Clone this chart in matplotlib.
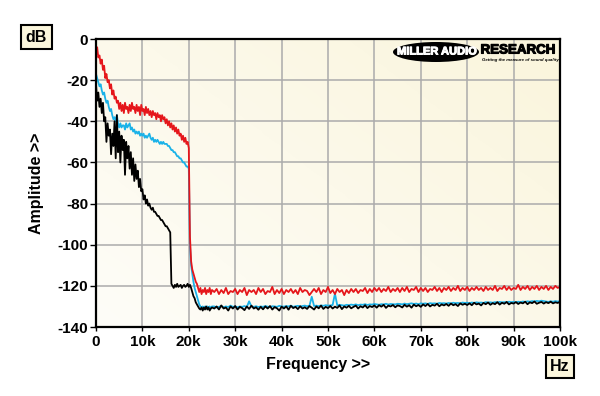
import numpy as np
import matplotlib
matplotlib.use("Agg")
import matplotlib.pyplot as plt
import matplotlib.patheffects as pe
from matplotlib.patches import Ellipse
from matplotlib.colors import LinearSegmentedColormap

plt.rcParams['font.family'] = ['Liberation Sans', 'DejaVu Sans']

# ---------------- data (dB) ----------------
# low region: 0 .. 25 kHz, one value every 0.25 kHz
red_low = [
    -8, -4, -9, -8,  -12, -10, -15, -13,  -19, -17, -21, -20,  -24, -22, -27, -25,
    -29, -28, -31, -30,  -34, -31, -35, -32,  -36, -31, -34, -33,  -36, -32, -35, -31,
    -34, -33, -36, -32,  -35, -33, -37, -32,  -35, -34, -37, -33,  -36, -34, -37, -35,
    -38, -35, -37, -36,  -39, -36, -38, -37,  -40, -37, -39, -38,  -41, -39, -42, -40,
    -43, -41, -44, -42,  -45, -43, -46, -44,  -47, -46, -49, -47,  -50, -48, -51, -50,
    -53, -96, -108, -112,  -114, -116, -118, -119,  -121, -123, -121, -124,
    -122, -123, -121, -124,  -122, -123, -121, -124,  -122]
cyan_low = [
    -17, -19, -21, -23,  -22, -25, -27, -26,  -29, -31, -30, -33,  -35, -34, -37, -39,
    -38, -40, -37, -41,  -43, -41, -43, -42,  -42, -44, -41, -43,  -42, -41, -44, -43,
    -45, -44, -46, -45,  -46, -45, -47, -46,  -47, -46, -48, -47,  -48, -47, -46, -48,
    -49, -48, -50, -49,  -50, -49, -50, -51,  -50, -51, -50, -51,  -51, -51, -52, -52,
    -53, -54, -54, -55,  -55, -56, -57, -57,  -58, -58, -59, -60,  -60, -61, -62, -62,
    -63, -100, -110, -114,  -118, -121, -123, -125,  -127, -129, -130, -130.5,
    -130, -131, -130, -130.5,  -130, -130.5, -130, -131,  -130]
black_low = [
    -22, -30, -26, -33,  -29, -36, -31, -40,  -38, -50, -41, -47,  -44, -56, -46, -52,
    -40, -58, -37, -55,  -45, -60, -47, -54,  -49, -66, -50, -58,  -52, -63, -55, -66,
    -58, -69, -61, -68,  -64, -72, -68, -74,  -73, -78, -76, -80,  -78, -81, -80, -82,
    -83, -82, -84, -84,  -85, -86, -86, -87,  -88, -88, -89, -90,  -91, -91, -92, -93,
    -94, -119, -120, -121,  -119.5, -120.5, -119, -120.5,  -120, -119.5, -121, -120,
    -119.5, -120.5, -120, -119,  -120.5, -119.5, -121, -123,  -125, -126, -128, -129,
    -130, -131, -131.5, -130.5,  -132, -130.5, -131.5, -130,  -131.5, -130.5, -132, -131,
    -130.5]

# noise floor: 25.5 .. 100 kHz, one value every 0.5 kHz
red_floor = [
    -123, -121.5, -124, -122, -123.5, -121, -124, -122.5, -123, -121.5,
    -124, -122, -123, -121, -124.5, -122, -123, -122, -124, -121,
    -123, -121.5, -124, -122.5, -123, -120.5, -124, -122, -123.5, -121.5,
    -124, -122, -123, -121.5, -123.5, -122, -124, -121, -123, -122,
    -122.5, -124.5, -123, -121.5, -123, -121, -124, -122, -123, -120.5,
    -123.5, -122, -124, -121.5, -123, -122, -124.5, -122, -123.5, -121.5,
    -123, -121.5, -123.5, -122, -122.5, -121, -123.5, -121.5, -123, -121,
    -122.5, -121, -123, -121.5, -122.5, -120.5, -123, -121.5, -122.5, -121,
    -123, -121, -122.5, -120.5, -123, -121.5, -122, -120.5, -123, -121,
    -122.5, -121, -123, -121.5, -122, -120.5, -122.5, -121, -123, -121,
    -122, -120.5, -122.5, -121, -122, -120, -122.5, -121, -122, -120.5,
    -122.5, -121, -122, -120.5, -122, -121, -122.5, -120.5, -122, -121,
    -122, -120, -122.5, -121, -121.5, -120, -122, -120.5, -122, -121,
    -121.5, -119.5, -122, -120.5, -121.5, -120, -122, -120.5, -121.5, -120,
    -122, -120.5, -121.5, -120, -122, -120.5, -121.5, -120, -121, -120.5]
cyan_floor = [
    -130, -130.5, -130.2, -129.8, -130.4, -130, -130.3, -129.6, -130.2, -130,
    -130.4, -130, -130.2, -129.8, -130.3, -127.5, -130, -130.2, -129.9, -130.3,
    -130, -130.2, -129.8, -130.1, -130.3, -129.9, -130, -130.2, -129.7, -130,
    -130.1, -129.8, -130, -129.6, -130.2, -129.9, -129.7, -130, -129.8, -129.6,
    -129.9, -129.7, -125.3, -129.8, -129.6, -129.9, -129.5, -129.7, -129.4, -129.6,
    -129.5, -129.3, -123.8, -129.5, -129.2, -129.4, -129.6, -129.2, -129.4, -129.1,
    -129.3, -129, -129.4, -129.1, -129.2, -128.9, -129.3, -129, -129.1, -128.8,
    -129, -129.2, -128.9, -129, -128.7, -129.1, -128.8, -128.9, -129, -128.7,
    -128.8, -129, -128.6, -128.9, -128.7, -128.5, -128.8, -128.6, -128.9, -128.5,
    -128.7, -128.5, -128.8, -128.4, -128.6, -128.5, -128.7, -128.3, -128.5, -128.4,
    -128.6, -128.3, -128.5, -128.2, -128.4, -128.3, -128.5, -128.1, -128.3, -128.2,
    -128.4, -128.1, -128.3, -128, -128.2, -128.1, -128.3, -127.9, -128.1, -128,
    -128.2, -127.9, -128.1, -127.8, -128, -127.9, -128.1, -127.7, -127.9, -127.8,
    -128, -127.7, -127.9, -127.6, -127.8, -127.5, -127.7, -127.4, -127.6, -127.3,
    -127.5, -127.2, -127.4, -127.6, -127.8, -127.5, -127.7, -127.4, -127.6, -127.5]
black_floor = [
    -131, -130, -131.5, -129.5, -131, -130.5, -132, -130, -131, -129.8,
    -131.5, -130.2, -130.8, -131.8, -130, -131.2, -129.6, -131, -130.4, -131.6,
    -130.2, -131.4, -130, -131, -129.8, -131.5, -130.3, -130.9, -132, -130.1,
    -131, -130, -131.6, -129.7, -130.8, -130.2, -131.3, -129.9, -131, -130.4,
    -131.2, -129.8, -130.6, -131.5, -130, -130.9, -129.6, -131.2, -130.2, -130.8,
    -129.8, -131, -130.1, -130.7, -129.5, -131.3, -130, -130.6, -129.7, -130.9,
    -130.2, -129.6, -131, -129.9, -130.5, -129.4, -130.8, -129.8, -130.3, -129.5,
    -130.6, -129.4, -130.1, -129.2, -130.7, -129.6, -130, -129.3, -130.4, -129.5,
    -129.8, -130.5, -129.2, -130.1, -129.4, -130.6, -129.1, -129.9, -129.3, -130.2,
    -129, -129.8, -128.8, -130, -129.2, -129.6, -128.7, -129.9, -129, -129.5,
    -128.8, -129.7, -128.6, -129.4, -128.9, -129.8, -128.5, -129.2, -128.7, -129.3,
    -128.5, -129.4, -128.2, -129, -128.6, -129.5, -128.3, -128.9, -128.1, -129.2,
    -128.4, -128.9, -127.9, -129.1, -128.2, -128.7, -127.8, -129, -128.3, -128.6,
    -127.9, -128.8, -128.1, -128.5, -127.7, -128.9, -128, -128.4, -127.6, -128.7,
    -128.2, -127.8, -128.6, -127.9, -128.4, -127.7, -128.5, -128, -128.3, -127.8]

low_step_khz = 0.25
floor_start_khz = 25.5
floor_step_khz = 0.5

x_ticks = [0, 10, 20, 30, 40, 50, 60, 70, 80, 90, 100]
x_tick_labels = ['0', '10k', '20k', '30k', '40k', '50k', '60k', '70k', '80k', '90k', '100k']
y_ticks = [0, -20, -40, -60, -80, -100, -120, -140]


def series(low, floor):
    xl = np.arange(len(low)) * low_step_khz
    xf = floor_start_khz + np.arange(len(floor)) * floor_step_khz
    return np.concatenate([xl, xf]), np.array(low + floor, dtype=float)


# ---------------- figure ----------------
fig = plt.figure(figsize=(6.0, 3.96), dpi=100)
fig.patch.set_facecolor('white')
ax = fig.add_axes([0.16, 0.1742, 0.7733, 0.7273])

# cream gradient background (lighter at bottom-left)
cmap = LinearSegmentedColormap.from_list('cream', ['#FEFDF8', '#FAF5DC'])
gy, gx = np.mgrid[0:1:100j, 0:1:100j]
grad = (gx * 0.55 + gy * 0.45)
ax.imshow(grad, cmap=cmap, extent=[0, 1, 0, 1], transform=ax.transAxes,
          origin='lower', aspect='auto', zorder=0, interpolation='bilinear')

colors = {'cyan': '#1AB2E8', 'black': '#000000', 'red': '#E5161B'}
for low, floor, c in [(cyan_low, cyan_floor, colors['cyan']),
                      (black_low, black_floor, colors['black']),
                      (red_low, red_floor, colors['red'])]:
    xs, ys = series(low, floor)
    ax.plot(xs, ys, color=c, lw=1.3, zorder=3)

ax.set_xlim(0, 100)
ax.set_ylim(-140, 0)
ax.set_xticks(x_ticks)
ax.set_xticklabels(x_tick_labels)
ax.set_yticks(y_ticks)
ax.set_yticklabels([str(v) for v in y_ticks])
ax.set_axisbelow(True)
ax.grid(True, color='#ABABAB', lw=1.1)
for s in ax.spines.values():
    s.set_linewidth(1.6)
    s.set_color('black')
    s.set_zorder(5)
ax.tick_params(axis='both', direction='out', length=4, width=1.0,
               labelsize=11, pad=1.5)
for lab in ax.get_xticklabels() + ax.get_yticklabels():
    lab.set_fontweight('bold')
ax.tick_params(axis='x', length=3, pad=3)

# axis labels
fig.text(318 / 600, 1 - 364 / 396, 'Frequency >>', ha='center', va='center',
         fontsize=11.5, fontweight='bold')
fig.text(36 / 600, 1 - 183 / 396, 'Amplitude >>', ha='center', va='center',
         rotation=90, fontsize=11.5, fontweight='bold')

box = dict(boxstyle='square,pad=0.28', facecolor='#FBF6DC', edgecolor='black', lw=1.5)
fig.text(36.5 / 600, 1 - 37 / 396, 'dB', ha='center', va='center',
         fontsize=11.5, fontweight='bold', bbox=box)
fig.text(560 / 600, 1 - 366.5 / 396, 'Hz', ha='center', va='center',
         fontsize=11.5, fontweight='bold', bbox=box)

# logo
ell = Ellipse((436 / 600, 1 - 52 / 396), 86 / 600, 20 / 396,
              transform=fig.transFigure, facecolor='black', edgecolor='none', zorder=10)
fig.add_artist(ell)
fig.text(437 / 600, 1 - 51.5 / 396, 'MILLER AUDIO', ha='center', va='center',
         color='white', fontsize=8.0, fontweight='heavy', zorder=11,
         path_effects=[pe.withStroke(linewidth=0.7, foreground='white')])
fig.text(518 / 600, 1 - 50.5 / 396, 'RESEARCH', ha='center', va='center',
         color='black', fontsize=9.6, fontweight='heavy', zorder=11,
         path_effects=[pe.withStroke(linewidth=0.8, foreground='black')])
fig.text(520 / 600, 1 - 60 / 396, 'Getting the measure of sound quality',
         ha='center', va='center', color='black', fontsize=3.2,
         fontweight='bold', fontstyle='italic', zorder=11)

fig.savefig('out.png', dpi=100, facecolor='white')
